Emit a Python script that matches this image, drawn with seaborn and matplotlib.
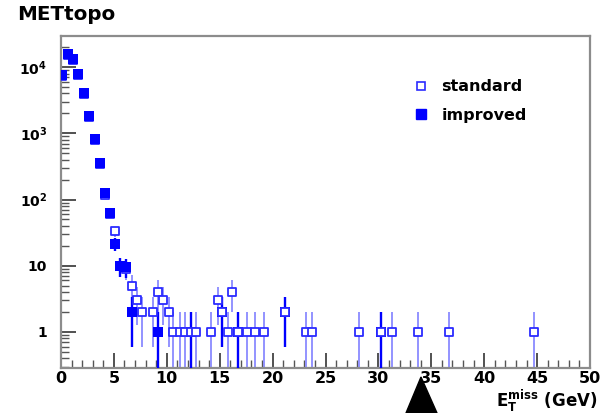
import numpy as np
import pandas as pd
import matplotlib
matplotlib.use("Agg")
import matplotlib.pyplot as plt
from matplotlib.lines import Line2D
from matplotlib.ticker import FixedLocator, FixedFormatter, MultipleLocator, NullFormatter, LogLocator
from matplotlib.patches import Polygon
import seaborn as sns

# ---------------- data ----------------
std_x = [0.12, 0.66, 1.13, 1.6, 2.17, 2.65, 3.2, 3.7, 4.16, 4.63, 5.1, 5.6, 6.15,
         6.7, 7.2, 7.7, 8.67, 9.2, 9.67, 10.24, 10.6, 11.25, 11.7, 12.25, 12.75,
         14.15, 14.8, 15.2, 15.75, 16.2, 16.7, 17.6, 18.3, 19.2, 21.2,
         23.2, 23.75, 28.2, 30.25, 31.25, 33.7, 36.7, 44.7]
std_y = [7400, 15000, 12800, 7600, 3900, 1750, 790, 340, 115, 60, 33, 10, 9,
         5, 3, 2, 2, 4, 3, 2, 1, 1, 1, 1, 1,
         1, 3, 2, 1, 4, 1, 1, 1, 1, 2,
         1, 1, 1, 1, 1, 1, 1, 1]

imp_x = [0.12, 0.66, 1.13, 1.6, 2.17, 2.65, 3.2, 3.7, 4.16, 4.63, 5.1, 5.6, 6.15,
         6.7, 9.2, 12.25, 15.2, 16.7, 21.2, 30.25]
imp_y = [7600, 15700, 13200, 7800, 4000, 1800, 810, 350, 126, 63, 21.5, 10, 9.5,
         2, 1, 1, 2, 1, 2, 1]

series_names = ["standard", "improved"]
title_text = "METtopo"
x_ticks = [0, 5, 10, 15, 20, 25, 30, 35, 40, 45, 50]
y_ticks = [1, 10, 100, 1000, 10000]
y_tick_labels = ["1", "10", r"$\mathbf{10^{2}}$", r"$\mathbf{10^{3}}$", r"$\mathbf{10^{4}}$"]
x_title = r"$\mathbf{E_{T}^{miss}}$ (GeV)"

# ---------------- style ----------------
sns.set_theme(style="white")
plt.rcParams["font.family"] = ["DejaVu Sans"]
plt.rcParams["font.weight"] = "bold"
plt.rcParams["text.color"] = "black"
plt.rcParams["xtick.labelcolor"] = "black"
plt.rcParams["ytick.labelcolor"] = "black"
plt.rcParams["mathtext.fontset"] = "custom"
plt.rcParams["mathtext.rm"] = "DejaVu Sans:bold"
plt.rcParams["mathtext.bf"] = "DejaVu Sans:bold"
plt.rcParams["mathtext.it"] = "DejaVu Sans:bold"

std_df = pd.DataFrame({"x": std_x, "y": std_y})
imp_df = pd.DataFrame({"x": imp_x, "y": imp_y})

fig = plt.figure(figsize=(6.0, 4.13), dpi=100)
ax = fig.add_axes([61 / 600, 1 - 368 / 413, (590 - 61) / 600, (368 - 36) / 413])
ax.set_yscale("log")
ax.set_xlim(0, 50)
ax.set_ylim(0.285, 29500)

def err(y):
    y = np.asarray(y, float)
    e = np.sqrt(y)
    return np.clip(y - e, 1e-3, None), y + e

lo, hi = err(std_y)
ax.vlines(std_x, lo, hi, color="#8a8aff", lw=1.3, zorder=2)
lo, hi = err(imp_y)
ax.vlines(imp_x, lo, hi, color="#0000ff", lw=1.7, zorder=3)

front = imp_df[imp_df.x < 10]
back = imp_df[imp_df.x >= 10]
sns.scatterplot(data=back, x="x", y="y", marker="s", color="#0000ff", s=48,
                linewidth=0, ax=ax, zorder=3.5, legend=False)
sns.scatterplot(data=std_df, x="x", y="y", marker="s", facecolor="white",
                edgecolor="#2b2bff", s=40, linewidth=1.3, ax=ax, zorder=4, legend=False)
sns.scatterplot(data=front, x="x", y="y", marker="s", color="#0000ff", s=52,
                linewidth=0, ax=ax, zorder=5, legend=False)

ax.set_xlabel("")
ax.set_ylabel("")

# axes frame and ticks
for sp in ax.spines.values():
    sp.set_color("#8c8c8c")
    sp.set_linewidth(1.6)
ax.xaxis.set_major_locator(FixedLocator(x_ticks))
ax.xaxis.set_minor_locator(MultipleLocator(1))
ax.yaxis.set_major_locator(FixedLocator(y_ticks))
ax.yaxis.set_major_formatter(FixedFormatter(y_tick_labels))
ax.yaxis.set_minor_locator(LogLocator(base=10, subs=np.arange(2, 10)))
ax.yaxis.set_minor_formatter(NullFormatter())
ax.tick_params(axis="both", which="major", direction="in", length=11, width=1.2,
               color="#333333", bottom=True, left=True, top=False, right=False)
ax.tick_params(axis="both", which="minor", direction="in", length=6, width=1.0,
               color="#555555", bottom=True, left=True, top=False, right=False)
ax.tick_params(axis="x", which="major", pad=2, labelsize=11.5, labelcolor="black")
ax.tick_params(axis="y", which="major", pad=10, labelsize=10, labelcolor="black")
for lab in ax.get_xticklabels() + ax.get_yticklabels():
    lab.set_fontweight("bold")

# title and axis title
fig.text(17 / 600, 1 - 14 / 413, title_text, fontsize=14.3, fontweight="bold",
         ha="left", va="center", color="black")
fig.text(597 / 600, 1 - 407 / 413, x_title, fontsize=12,
         fontweight="bold", ha="right", va="baseline", color="black")

# legend
handles = [
    Line2D([], [], marker="s", ls="none", markerfacecolor="white",
           markeredgecolor="#2b2bff", markersize=5.8, markeredgewidth=1.2),
    Line2D([], [], marker="s", ls="none", color="#0000ff", markersize=6.8),
]
fig.legend(handles, series_names, loc="upper left",
           bbox_to_anchor=(399 / 600, 1 - 65 / 413), frameon=False,
           handlelength=1.0, handletextpad=0.75, labelspacing=0.85,
           prop={"weight": "bold", "size": 11.5}, labelcolor="black")

# black triangle marker at the bottom
tri = Polygon([[421 / 600, 1 - 377 / 413], [406 / 600, 0], [437 / 600, 0]],
              closed=True, transform=fig.transFigure, color="black", zorder=10)
fig.add_artist(tri)

fig.savefig("out.png", dpi=100)
